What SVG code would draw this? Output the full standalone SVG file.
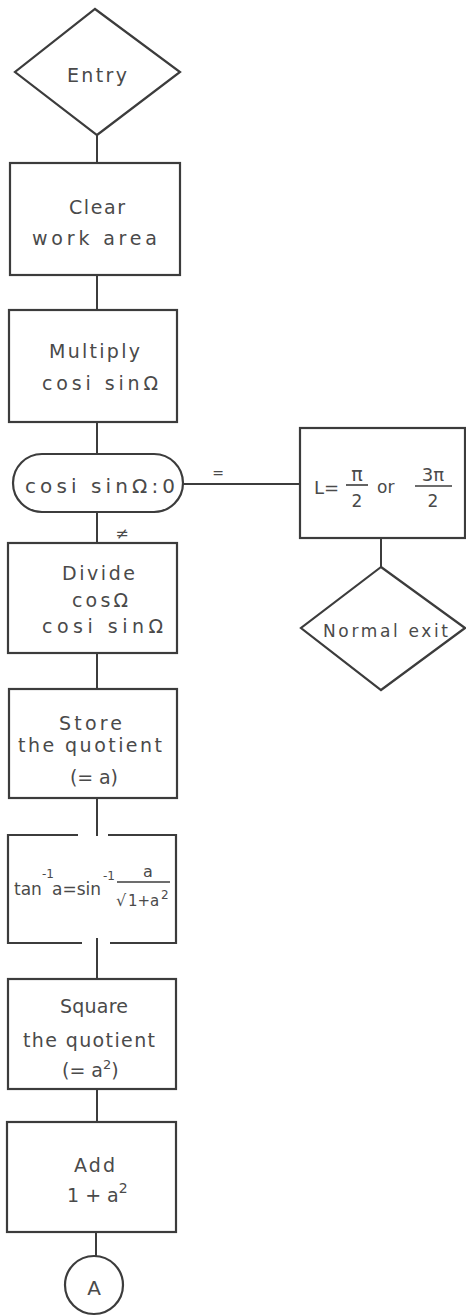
<svg xmlns="http://www.w3.org/2000/svg" width="466" height="1316" viewBox="0 0 466 1316">
<style>
.s{fill:#fff;stroke:#3c3c3c;stroke-width:2.2}
.c{fill:none;stroke:#3c3c3c;stroke-width:2}
.t{font-family:"DejaVu Sans","Liberation Sans",sans-serif;font-size:19px;fill:#4a4a4a}
.m{font-family:"DejaVu Sans","Liberation Sans",sans-serif;font-size:17px;fill:#4a4a4a;text-anchor:middle}
.sm{font-family:"DejaVu Sans","Liberation Sans",sans-serif;font-size:12px;fill:#4a4a4a}
</style>
<rect width="466" height="1316" fill="#fff"/>
<g id="connectors">
<line class="c" x1="97" y1="135" x2="97" y2="163"/>
<line class="c" x1="97" y1="275" x2="97" y2="310"/>
<line class="c" x1="97" y1="422" x2="97" y2="454"/>
<line class="c" x1="97" y1="512" x2="97" y2="543"/>
<line class="c" x1="183" y1="484" x2="300" y2="484"/>
<text class="m" x="218" y="478" style="font-size:14px">=</text>
<text class="m" x="122" y="539" style="font-size:16px">≠</text>
<line class="c" x1="381" y1="538" x2="381" y2="567"/>
<line class="c" x1="97" y1="653" x2="97" y2="689"/>
<line class="c" x1="97" y1="798" x2="97" y2="836"/>
<line class="c" x1="97" y1="938" x2="97" y2="979"/>
<line class="c" x1="97" y1="1089" x2="97" y2="1122"/>
<line class="c" x1="96" y1="1232" x2="96" y2="1256"/>
</g>
<g id="entry">
<polygon class="s" points="95,9 180,72 97,135 15,72"/>
<text class="t" x="67" y="82" textLength="60" lengthAdjust="spacing">Entry</text>
</g>
<g id="clear">
<rect class="s" x="10" y="163" width="170" height="112"/>
<text class="t" x="69" y="214" textLength="56" lengthAdjust="spacing">Clear</text>
<text class="t" x="32" y="245" textLength="125" lengthAdjust="spacing">work area</text>
</g>
<g id="multiply">
<rect class="s" x="9" y="310" width="168" height="112"/>
<text class="t" x="49" y="358" textLength="91" lengthAdjust="spacing">Multiply</text>
<text class="t" x="42" y="390" textLength="116" lengthAdjust="spacing">cosi sinΩ</text>
</g>
<g id="test">
<rect class="s" x="13" y="454" width="170" height="58" rx="29" ry="29"/>
<text class="t" x="25" y="493" textLength="150" lengthAdjust="spacing" style="font-size:20px">cosi sinΩ:0</text>
</g>
<g id="setL">
<rect class="s" x="300" y="428" width="165" height="110"/>
<text class="t" x="314" y="494" style="font-size:18px">L=</text>
<text class="m" x="357" y="481" style="font-size:19px">π</text>
<line class="c" x1="346" y1="485" x2="368" y2="485" style="stroke-width:1.6"/>
<text class="m" x="357" y="507" style="font-size:17px">2</text>
<text class="t" x="377" y="493" style="font-size:17px">or</text>
<text class="m" x="433" y="481" style="font-size:18px">3π</text>
<line class="c" x1="415" y1="486" x2="452" y2="486" style="stroke-width:1.6"/>
<text class="m" x="433" y="507" style="font-size:17px">2</text>
</g>
<g id="exit">
<polygon class="s" points="381,567 465,628 381,690 301,628"/>
<text class="t" x="323" y="637" textLength="125" lengthAdjust="spacing" style="font-size:17px">Normal exit</text>
</g>
<g id="divide">
<rect class="s" x="8" y="543" width="169" height="110"/>
<text class="t" x="62" y="580" textLength="73" lengthAdjust="spacing">Divide</text>
<text class="t" x="72" y="607" textLength="56" lengthAdjust="spacing">cosΩ</text>
<text class="t" x="42" y="633" textLength="121" lengthAdjust="spacing">cosi sinΩ</text>
</g>
<g id="store">
<rect class="s" x="9" y="689" width="168" height="109"/>
<text class="t" x="59" y="730" textLength="63" lengthAdjust="spacing">Store</text>
<text class="t" x="18" y="752" textLength="144" lengthAdjust="spacing">the quotient</text>
<text class="t" x="70" y="784" textLength="48" lengthAdjust="spacing">(= a)</text>
</g>
<g id="arctan">
<path class="s" style="fill:none" d="M78,835 H8 V943 H82 M110,943 H176 V835 H108"/>
<text class="t" x="14" y="895" style="font-size:17px">tan</text>
<text class="sm" x="42" y="878">-1</text>
<text class="t" x="52" y="895" style="font-size:17px">a=sin</text>
<text class="sm" x="103" y="880">-1</text>
<text class="m" x="148" y="877" style="font-size:16px">a</text>
<line class="c" x1="117" y1="882" x2="170" y2="882" style="stroke-width:1.6"/>
<text class="t" x="116" y="906" style="font-size:16px">√</text>
<text class="t" x="128" y="906" style="font-size:15px">1+a</text>
<text class="sm" x="161" y="899">2</text>
</g>
<g id="square">
<rect class="s" x="8" y="979" width="168" height="110"/>
<text class="t" x="60" y="1013" textLength="68" lengthAdjust="spacing">Square</text>
<text class="t" x="23" y="1047" textLength="132" lengthAdjust="spacing">the quotient</text>
<text class="t" x="62" y="1077">(= a<tspan dy="-8" style="font-size:13px">2</tspan><tspan dy="8">)</tspan></text>
</g>
<g id="add">
<rect class="s" x="7" y="1122" width="169" height="110"/>
<text class="t" x="74" y="1172" textLength="41" lengthAdjust="spacing">Add</text>
<text class="t" x="67" y="1202">1 + a<tspan dy="-9" style="font-size:14px">2</tspan></text>
</g>
<g id="connectorA">
<circle class="s" cx="94" cy="1285" r="29"/>
<text class="m" x="94" y="1295" style="font-size:20px">A</text>
</g>
</svg>
